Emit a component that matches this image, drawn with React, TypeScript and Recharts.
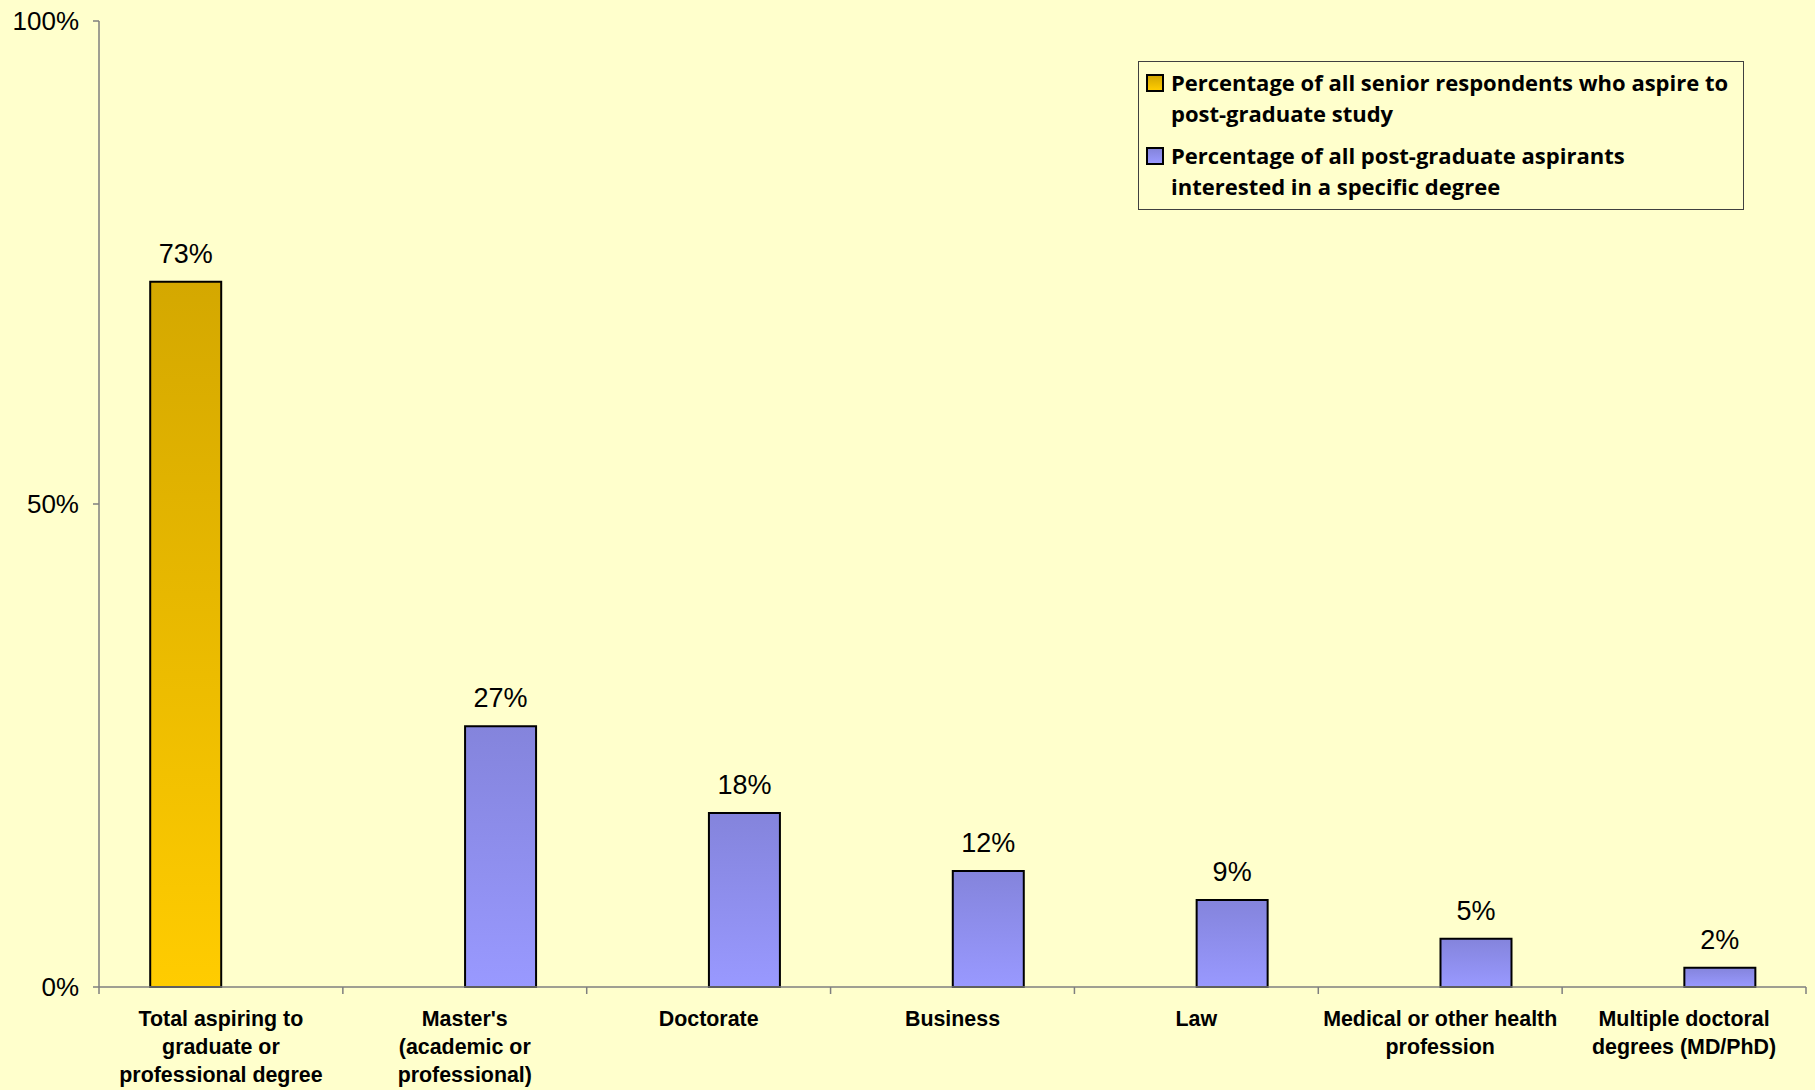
import React from "react";
import {
  BarChart,
  Bar,
  XAxis,
  YAxis,
  Legend,
  LabelList,
} from "recharts";

const categories = [
  "Total aspiring to graduate or professional degree",
  "Master's (academic or professional)",
  "Doctorate",
  "Business",
  "Law",
  "Medical or other health profession",
  "Multiple doctoral degrees (MD/PhD)",
];

// how each category label is broken on the axis
const categoryLines = [
  ["Total aspiring to", "graduate or", "professional degree"],
  ["Master's", "(academic or", "professional)"],
  ["Doctorate"],
  ["Business"],
  ["Law"],
  ["Medical or other health", "profession"],
  ["Multiple doctoral", "degrees (MD/PhD)"],
];

const aspireValues = [73, null, null, null, null, null, null];
const specificValues = [null, 27, 18, 12, 9, 5, 2];

const yTicks = [0, 50, 100];

const legendItems = [
  {
    key: "aspire",
    lines: ["Percentage of all senior respondents who aspire to", "post-graduate study"],
    fill: "linear-gradient(#D4A800, #FFCC00)",
  },
  {
    key: "specific",
    lines: ["Percentage of all post-graduate aspirants", "interested in a specific degree"],
    fill: "linear-gradient(#8484DC, #9999FF)",
  },
];

const chartData = categories.map((name, i) => ({
  name,
  aspire: aspireValues[i],
  specific: specificValues[i],
}));

const BG = "#FFFFCC";

const CategoryTick = (props: any) => {
  const { x, y, payload, index, width, visibleTicksCount } = props;
  const band = width && visibleTicksCount ? width / visibleTicksCount : 243.8;
  const axisY = y - 9;
  const lines = categoryLines[index] || [payload.value];
  return (
    <g>
      <line x1={x - band / 2} x2={x - band / 2} y1={axisY} y2={axisY + 7} stroke="#7f7f7f" strokeWidth={1.5} />
      {index === visibleTicksCount - 1 && (
        <line x1={x + band / 2} x2={x + band / 2} y1={axisY} y2={axisY + 7} stroke="#7f7f7f" strokeWidth={1.5} />
      )}
      <text
        x={x}
        y={y}
        textAnchor="middle"
        fill="#000"
        fontFamily="'Liberation Sans', Arial, sans-serif"
        fontWeight="bold"
        fontSize={21.4}
      >
        {lines.map((line: string, i: number) => (
          <tspan key={i} x={x} dy={i === 0 ? 30 : 28}>
            {line}
          </tspan>
        ))}
      </text>
    </g>
  );
};

const LegendBox = () => (
  <div
    style={{
      border: "1px solid #404040",
      background: BG,
      padding: "5px 8px 7px 7px",
      fontFamily: "'Open Sans', Lato, sans-serif",
      fontWeight: 700,
      fontSize: 22,
      lineHeight: "31px",
      color: "#000",
      boxSizing: "border-box",
      width: 606,
    }}
  >
    {legendItems.map((item, k) => (
      <div key={item.key} style={{ display: "flex", alignItems: "flex-start", marginTop: k === 0 ? 0 : 11 }}>
        <span
          style={{
            display: "inline-block",
            width: 14,
            height: 14,
            marginTop: 7,
            marginRight: 7,
            background: item.fill,
            border: "2px solid #000",
            flexShrink: 0,
          }}
        />
        <span style={{ whiteSpace: "nowrap" }}>
          {item.lines.map((l, i) => (
            <div key={i}>{l}</div>
          ))}
        </span>
      </div>
    ))}
  </div>
);

export default function App() {
  return (
    <div style={{ position: "absolute", left: 0, top: 0, width: 1815, height: 1090, background: BG }}>
      <BarChart
        width={1815}
        height={1090}
        data={chartData}
        margin={{ top: 21, right: 9, bottom: 73, left: 0 }}
        barCategoryGap="21%"
        barGap={0}
      >
        <defs>
          <linearGradient id="goldGrad" x1="0" y1="0" x2="0" y2="1">
            <stop offset="0%" stopColor="#D4A800" />
            <stop offset="100%" stopColor="#FFCC00" />
          </linearGradient>
          <linearGradient id="blueGrad" x1="0" y1="0" x2="0" y2="1">
            <stop offset="0%" stopColor="#8484DC" />
            <stop offset="100%" stopColor="#9999FF" />
          </linearGradient>
        </defs>
        <XAxis
          dataKey="name"
          height={30}
          axisLine={{ stroke: "#7f7f7f", strokeWidth: 1.5 }}
          tickLine={false}
          tickSize={7}
          tickMargin={2}
          interval={0}
          tick={<CategoryTick />}
        />
        <YAxis
          width={99}
          domain={[0, 100]}
          ticks={yTicks}
          interval={0}
          tickFormatter={(v: number) => `${v}%`}
          axisLine={{ stroke: "#7f7f7f", strokeWidth: 1.5 }}
          tickLine={{ stroke: "#7f7f7f", strokeWidth: 1.5 }}
          tickSize={6}
          tickMargin={14}
          tick={{ fill: "#000", fontSize: 26, fontFamily: "'Liberation Sans', Arial, sans-serif" }}
        />
        <Legend
          layout="vertical"
          align="center"
          verticalAlign="middle"
          content={<LegendBox />}
          wrapperStyle={{ left: 1138, top: 61, width: 606 }}
        />
        <Bar
          dataKey="aspire"
          fill="url(#goldGrad)"
          stroke="#000"
          strokeWidth={2}
          isAnimationActive={false}
        >
          <LabelList
            dataKey="aspire"
            position="top"
            offset={19}
            formatter={(v: any) => (v == null ? "" : `${v}%`)}
            fill="#000"
            fontSize={27}
            fontFamily="'Liberation Sans', Arial, sans-serif"
          />
        </Bar>
        <Bar
          dataKey="specific"
          fill="url(#blueGrad)"
          stroke="#000"
          strokeWidth={2}
          isAnimationActive={false}
        >
          <LabelList
            dataKey="specific"
            position="top"
            offset={19}
            formatter={(v: any) => (v == null ? "" : `${v}%`)}
            fill="#000"
            fontSize={27}
            fontFamily="'Liberation Sans', Arial, sans-serif"
          />
        </Bar>
      </BarChart>
    </div>
  );
}
